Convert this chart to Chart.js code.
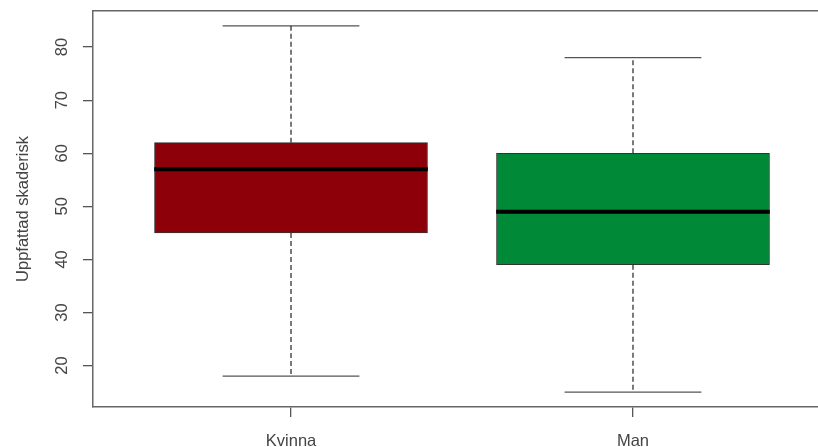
<!DOCTYPE html>
<html lang="sv">
<head>
<meta charset="utf-8">
<title>Uppfattad skaderisk</title>
<script src="https://cdn.jsdelivr.net/npm/chart.js@4.4.1/dist/chart.umd.min.js"></script>
<style>
  html, body { margin: 0; padding: 0; background: #fff; overflow: hidden; }
  #boxplot { display: block; }
</style>
</head>
<body>
<canvas id="boxplot" width="818" height="447"></canvas>
<script>
// värden
const kategorier = ['Kvinna', 'Man'];
const minsta = [18, 15];
const kvartil1 = [45, 39];
const median = [57, 49];
const kvartil3 = [62, 60];
const storsta = [84, 78];
const yTicks = [20, 30, 40, 50, 60, 70, 80];
const fargerLador = ['#8e0009', '#008a37'];

const ladHalva = 0.4;     // halva lådbredden i x-enheter
const morrHalva = 0.2;    // halva bredden på morrhårens tvärstreck
const xMin = 0.421;
const xMax = 2.541;

document.addEventListener("DOMContentLoaded", () => {
    Chart.defaults.font.family = "'Liberation Sans', Arial, sans-serif";

    function linje(punkter, extra) {
        return Object.assign({
            type: 'line',
            data: punkter,
            borderColor: '#333',
            borderWidth: 1.3,
            pointRadius: 0,
            fill: false,
            order: 0
        }, extra);
    }

    const datasets = [];
    kategorier.forEach((k, i) => {
        const x = i + 1;
        datasets.push(linje([{ x: x - ladHalva, y: median[i] }, { x: x + ladHalva, y: median[i] }], { borderColor: '#000', borderWidth: 4 }));
        datasets.push(linje([{ x: x, y: kvartil3[i] }, { x: x, y: storsta[i] }], { borderDash: [5, 3] }));
        datasets.push(linje([{ x: x, y: kvartil1[i] }, { x: x, y: minsta[i] }], { borderDash: [5, 3] }));
        datasets.push(linje([{ x: x - morrHalva, y: storsta[i] }, { x: x + morrHalva, y: storsta[i] }], { borderColor: '#555' }));
        datasets.push(linje([{ x: x - morrHalva, y: minsta[i] }, { x: x + morrHalva, y: minsta[i] }], { borderColor: '#555' }));
    });

    datasets.push({
        type: 'bar',
        data: kategorier.map((k, i) => ({ x: i + 1, y: [kvartil1[i], kvartil3[i]] })),
        backgroundColor: fargerLador,
        borderColor: '#333',
        borderWidth: 1,
        borderSkipped: false,
        barThickness: 273,
        order: 1
    });

    new Chart(document.getElementById('boxplot').getContext('2d'), {
        type: 'line',
        data: { datasets: datasets },
        options: {
            responsive: false,
            animation: false,
            layout: { padding: { top: 11, left: 0, right: 0, bottom: 0 } },
            plugins: {
                legend: { display: false },
                tooltip: { enabled: false }
            },
            scales: {
                x: {
                    type: 'linear',
                    min: xMin,
                    max: xMax,
                    offset: false,
                    afterBuildTicks: s => { s.ticks = kategorier.map((k, i) => ({ value: i + 1 })); },
                    afterFit: s => { s.height = 40; s.paddingLeft = 0; s.paddingRight = 0; },
                    ticks: {
                        callback: (v, i) => kategorier[i],
                        color: '#444',
                        font: { size: 16.5 },
                        padding: 15,
                        maxRotation: 0,
                        autoSkip: false
                    },
                    grid: { offset: false, drawOnChartArea: false, color: '#555', tickLength: 10, lineWidth: 1.3 },
                    border: { color: '#666', width: 1.5 }
                },
                xTopp: {
                    type: 'linear',
                    axis: 'x',
                    position: 'top',
                    min: xMin,
                    max: xMax,
                    afterFit: s => { s.height = 0; s.paddingLeft = 0; s.paddingRight = 0; },
                    ticks: { display: false },
                    grid: { display: false },
                    border: { color: '#666', width: 1.5 }
                },
                y: {
                    type: 'linear',
                    min: 12.2,
                    max: 86.8,
                    afterBuildTicks: s => { s.ticks = yTicks.map(v => ({ value: v })); },
                    afterFit: s => { s.width = 93; s.paddingTop = 0; s.paddingBottom = 0; },
                    ticks: {
                        color: '#444',
                        font: { size: 16.5 },
                        minRotation: 90,
                        maxRotation: 90,
                        crossAlign: 'center',
                        padding: 11
                    },
                    grid: { drawOnChartArea: false, color: '#555', tickLength: 10, lineWidth: 1.3 },
                    border: { color: '#666', width: 1.5 },
                    title: {
                        display: true,
                        text: 'Uppfattad skaderisk',
                        color: '#444',
                        font: { size: 16.5 },
                        padding: { top: 14, bottom: 0 }
                    }
                }
            }
        }
    });
});
</script>
</body>
</html>
